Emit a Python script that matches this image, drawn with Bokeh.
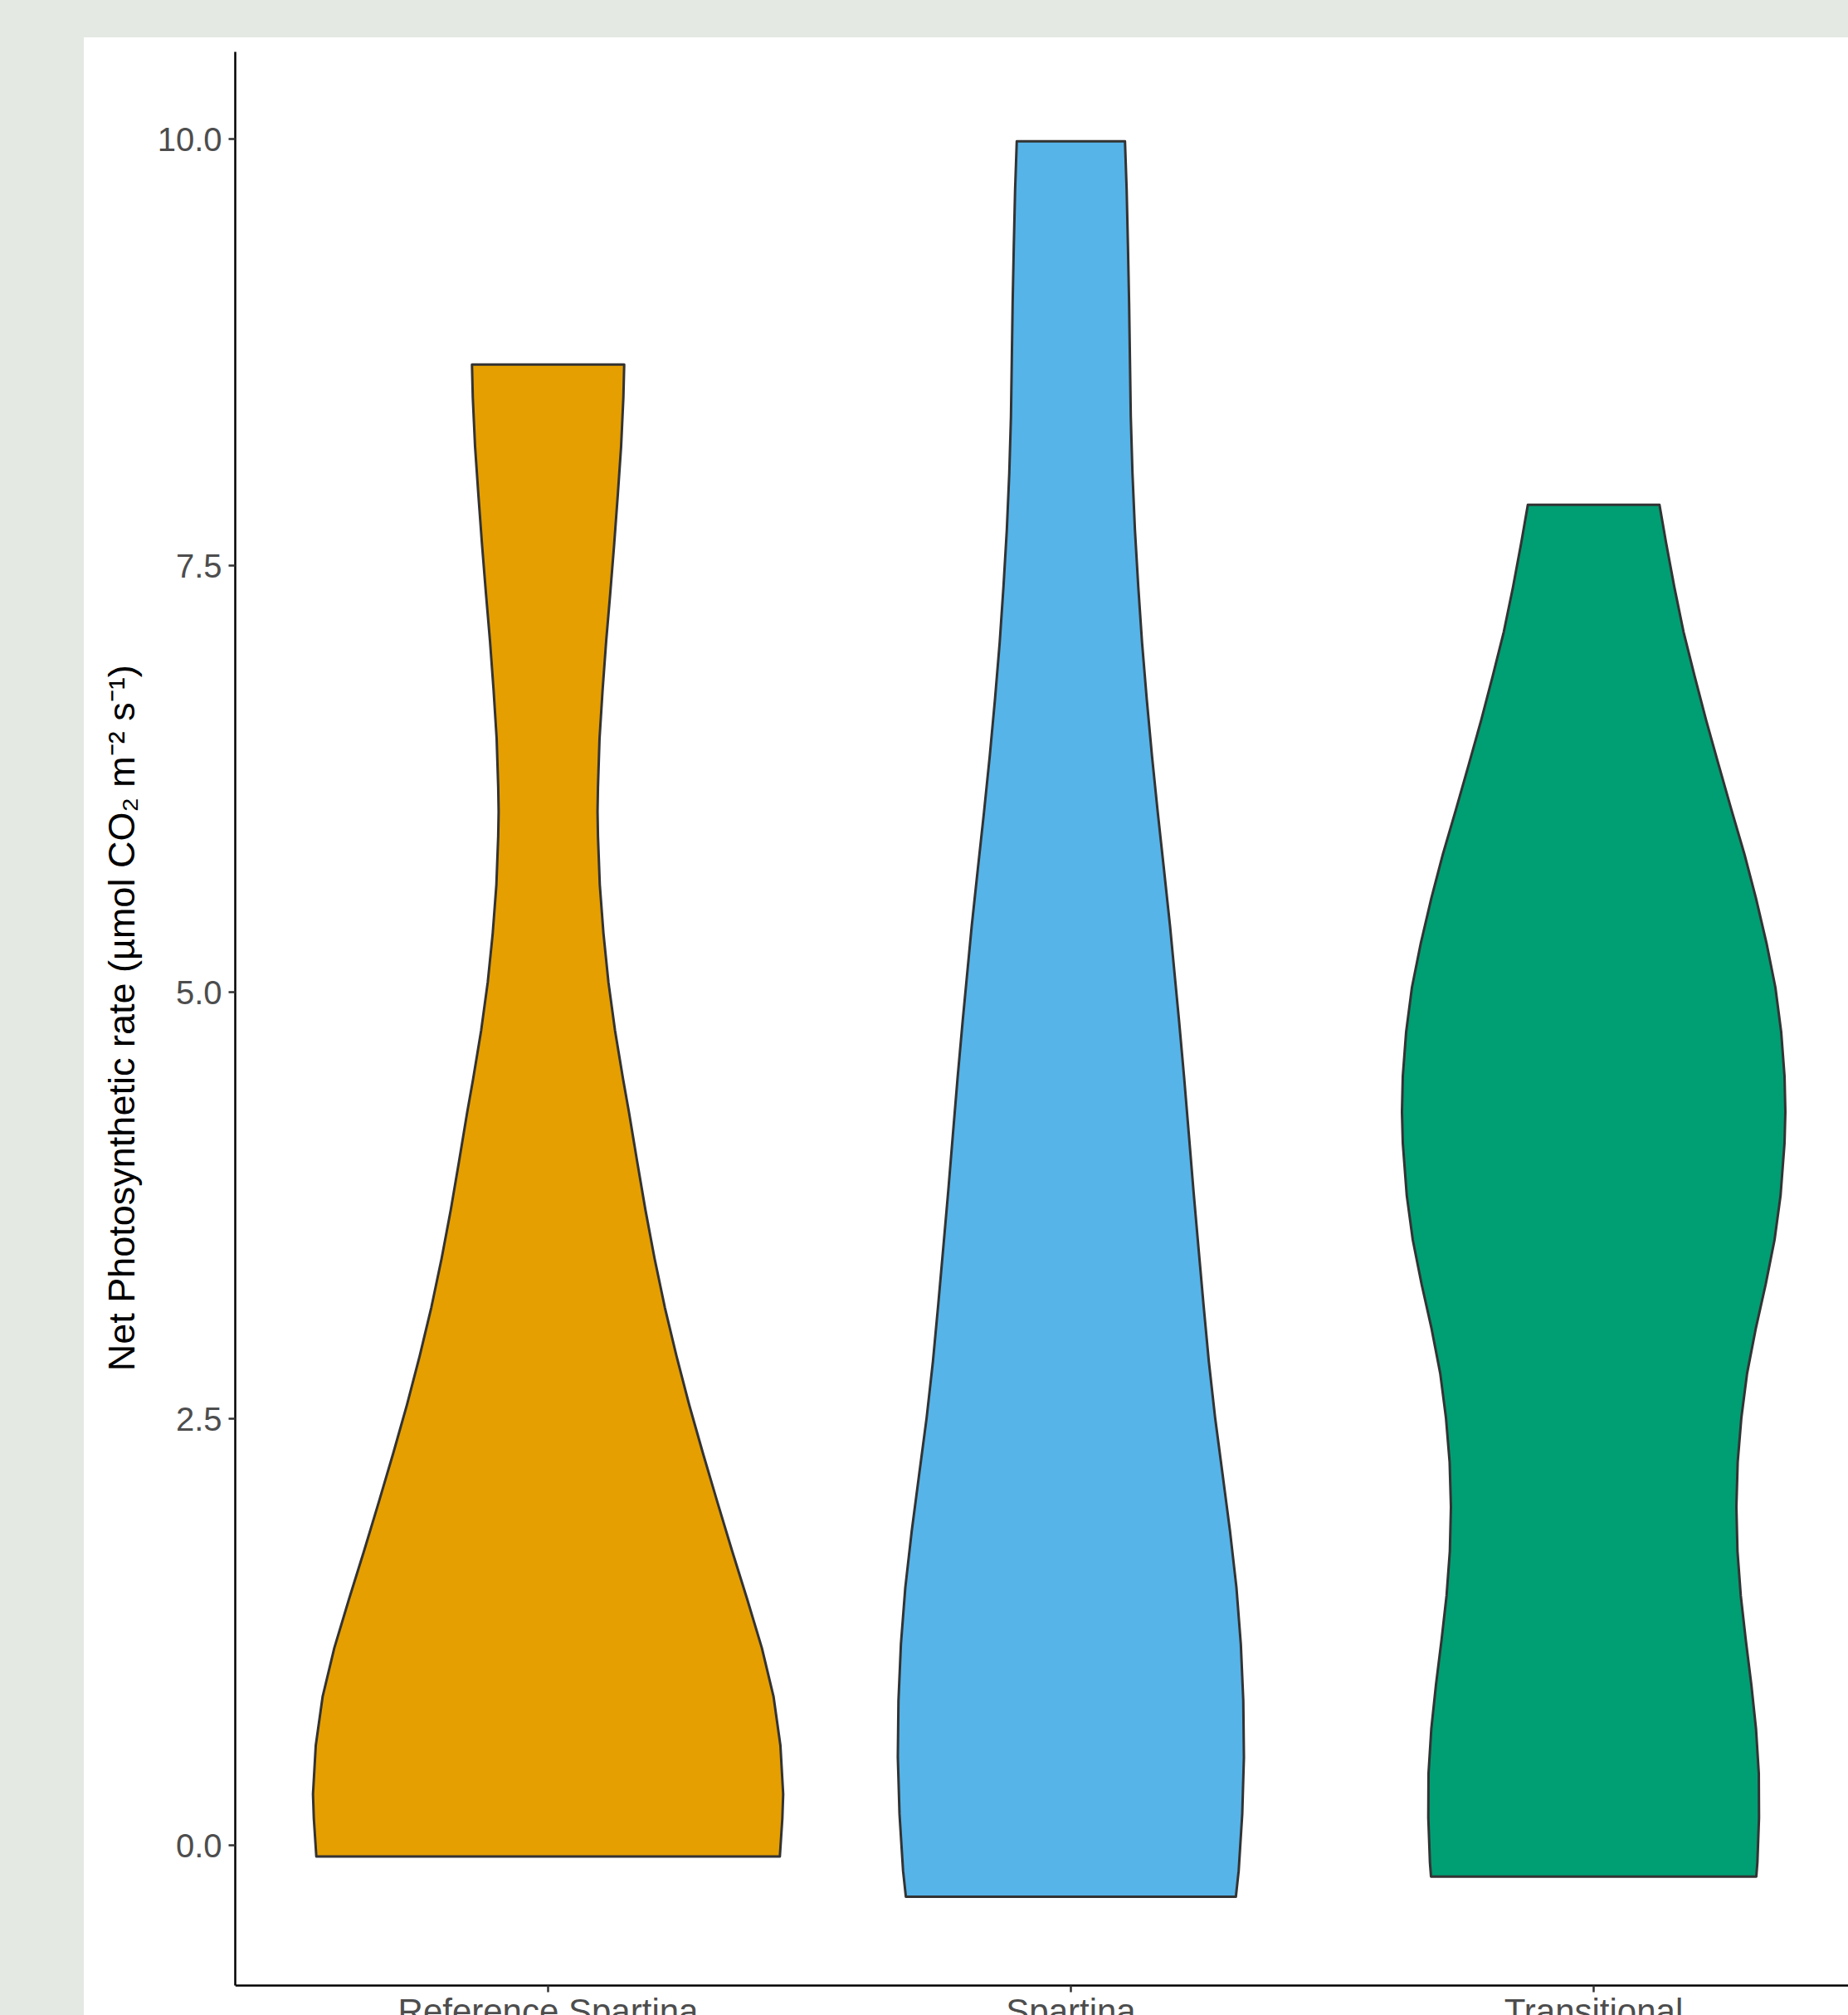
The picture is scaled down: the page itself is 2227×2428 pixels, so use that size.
from bokeh.plotting import figure
from bokeh.models import Range1d, LinearAxis, FixedTicker, Spacer
from bokeh.layouts import column, row
from bokeh.embed import file_html
from bokeh.resources import INLINE

# ---------------- data ----------------
categories = ["Reference Spartina", "Spartina", "Transitional"]
cat_pos = [1, 2, 3]
colors = ["#E69F00", "#56B4E9", "#009E73"]

y_ticks = [0.0, 2.5, 5.0, 7.5, 10.0]
y_tick_labels = ["0.0", "2.5", "5.0", "7.5", "10.0"]

# violin outlines: y value and half width (in category units), top to bottom
ref_y = [8.678, 8.484, 8.199, 7.913, 7.628, 7.342, 7.057, 6.772, 6.486, 6.201,
         6.058, 5.916, 5.630, 5.345, 5.059, 4.774, 4.489, 4.295, 4.009, 3.724,
         3.439, 3.153, 2.868, 2.583, 2.297, 2.012, 1.727, 1.441, 1.156, 0.871,
         0.585, 0.300, 0.157, -0.066]
ref_w = [0.1456, 0.1440, 0.1397, 0.1333, 0.1265, 0.1190, 0.1111, 0.1043, 0.0984, 0.0954,
         0.0946, 0.0954, 0.0989, 0.1059, 0.1154, 0.1281, 0.1435, 0.1548, 0.1703, 0.1862,
         0.2037, 0.2233, 0.2456, 0.2698, 0.2963, 0.3238, 0.3519, 0.3810, 0.4090, 0.4313,
         0.4444, 0.4497, 0.4481, 0.4433]

spa_y = [9.987, 9.702, 9.370, 9.038, 8.706, 8.374, 8.043, 7.711, 7.378, 7.047,
         6.715, 6.383, 6.051, 5.719, 5.387, 5.055, 4.830, 4.498, 4.166, 3.834,
         3.502, 3.170, 2.838, 2.506, 2.174, 1.842, 1.511, 1.179, 0.847, 0.515,
         0.183, -0.149, -0.302]
spa_w = [0.1035, 0.1067, 0.1092, 0.1114, 0.1130, 0.1146, 0.1178, 0.1225, 0.1289, 0.1362,
         0.1452, 0.1552, 0.1663, 0.1781, 0.1897, 0.2000, 0.2070, 0.2167, 0.2257, 0.2346,
         0.2441, 0.2537, 0.2638, 0.2759, 0.2902, 0.3044, 0.3167, 0.3251, 0.3298, 0.3310,
         0.3278, 0.3210, 0.3156]

tra_y = [7.857, 7.633, 7.373, 7.112, 6.852, 6.591, 6.331, 6.070, 5.809, 5.549,
         5.288, 5.028, 4.767, 4.507, 4.298, 4.116, 3.808, 3.548, 3.287, 3.027,
         2.766, 2.505, 2.245, 1.984, 1.724, 1.463, 1.203, 0.942, 0.681, 0.421,
         0.161, -0.100, -0.183]
tra_w = [0.1259, 0.1386, 0.1544, 0.1719, 0.1932, 0.2154, 0.2392, 0.2635, 0.2884, 0.3106,
         0.3306, 0.3476, 0.3587, 0.3651, 0.3667, 0.3651, 0.3575, 0.3460, 0.3290, 0.3100,
         0.2935, 0.2825, 0.2755, 0.2730, 0.2751, 0.2814, 0.2910, 0.3016, 0.3106, 0.3159,
         0.3163, 0.3132, 0.3111]

y_title = "Net Photosynthetic rate (µmol CO₂ m⁻² s⁻¹)"

# ---------------- styling ----------------
BG = "#E4E9E3"
FONT = "Liberation Sans"
Y_AXIS_AT, Y_END = -0.82, 10.511   # panel limits (x axis sits at Y_AXIS_AT)
Y_VIEW_START = -0.997              # page bottom (labels are cut there)
X_START, X_END = 0.4016, 3.4873

p = figure(width=2126, height=2383, output_backend="svg", toolbar_location=None,
           x_range=Range1d(X_START, X_END), y_range=Range1d(Y_VIEW_START, Y_END),
           x_axis_location=None,
           min_border_left=182, min_border_right=0, min_border_top=17, min_border_bottom=0)
p.background_fill_color = "white"
p.border_fill_color = "white"
p.outline_line_color = None
p.xgrid.visible = False
p.ygrid.visible = False

yax = p.yaxis[0]
yax.ticker = FixedTicker(ticks=y_ticks)
yax.bounds = (Y_AXIS_AT, Y_END)
yax.major_label_overrides = {t: l for t, l in zip(y_ticks, y_tick_labels)}
yax.minor_tick_line_color = None
yax.major_tick_in = 0
yax.major_tick_out = 8
yax.major_tick_line_color = "#333333"
yax.major_tick_line_width = 2.5
yax.axis_line_color = "black"
yax.axis_line_width = 2.5
yax.major_label_text_font = FONT
yax.major_label_text_font_size = "40px"
yax.major_label_text_color = "#4D4D4D"
yax.major_label_standoff = 8
# leading no-break spaces centre the title on the panel (which ends at the x axis)
yax.axis_label = "\u00a0\u00a0\u00a0" + y_title
yax.axis_label_text_font = FONT
yax.axis_label_text_font_size = "45px"
yax.axis_label_text_font_style = "normal"
yax.axis_label_text_color = "black"
yax.axis_label_standoff = 15

xax = LinearAxis(fixed_location=Y_AXIS_AT, ticker=FixedTicker(ticks=cat_pos),
                 major_label_overrides={c: n for c, n in zip(cat_pos, categories)})
xax.minor_tick_line_color = None
xax.major_tick_in = 0
xax.major_tick_out = 8
xax.major_tick_line_color = "#333333"
xax.major_tick_line_width = 2.5
xax.axis_line_color = "black"
xax.axis_line_width = 2.5
xax.major_label_text_font = FONT
xax.major_label_text_font_size = "42px"
xax.major_label_text_color = "#4D4D4D"
xax.major_label_standoff = 0
p.add_layout(xax, "below")

for pos, col, ys, ws in zip(cat_pos, colors, [ref_y, spa_y, tra_y], [ref_w, spa_w, tra_w]):
    xs = [pos - w for w in ws] + [pos + w for w in reversed(ws)]
    yy = list(ys) + list(reversed(ys))
    p.patch(xs, yy, fill_color=col, line_color="#333333", line_width=3, line_join="round")

top = Spacer(width=2227, height=45, styles={"background-color": BG})
left = Spacer(width=101, height=2383, styles={"background-color": BG})
layout = column(top, row(left, p))

open("out.html", "w", encoding="utf-8").write(file_html(layout, INLINE))
